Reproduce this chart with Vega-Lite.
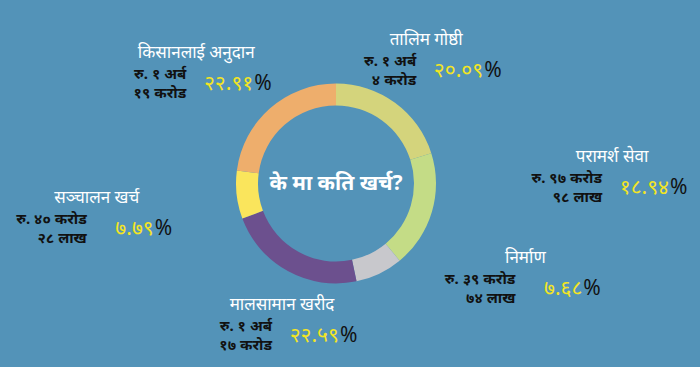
{
  "$schema": "https://vega.github.io/schema/vega-lite/v6.json",
  "width": 700,
  "height": 367,
  "autosize": {"type": "fit", "contains": "padding"},
  "padding": {"left": 0, "right": 26, "top": 0, "bottom": 0},
  "background": "#5393b8",
  "config": {"view": {"stroke": null}, "font": "Noto Sans"},
  "datasets": {
    "costs": [
      {"cat": "तालिम गोष्ठी", "ord": 1, "pct": 20.09, "pctText": "२०.०९", "amount": "रु. १ अर्ब\n४ करोड"},
      {"cat": "परामर्श सेवा", "ord": 2, "pct": 18.94, "pctText": "१८.९४", "amount": "रु. ९७ करोड\n९८ लाख"},
      {"cat": "निर्माण", "ord": 3, "pct": 7.68, "pctText": "७.६८", "amount": "रु. ३९ करोड\n७४ लाख"},
      {"cat": "मालसामान खरीद", "ord": 4, "pct": 22.59, "pctText": "२२.५९", "amount": "रु. १ अर्ब\n१७ करोड"},
      {"cat": "सञ्चालन खर्च", "ord": 5, "pct": 7.79, "pctText": "७.७९", "amount": "रु. ४० करोड\n२८ लाख"},
      {"cat": "किसानलाई अनुदान", "ord": 6, "pct": 22.91, "pctText": "२२.९१", "amount": "रु. १ अर्ब\n१९ करोड"}
    ],
    "heading": [{"title": "के मा कति खर्च?"}]
  },
  "data": {"name": "costs"},
  "encoding": {
    "theta": {"field": "pct", "type": "quantitative", "stack": true, "scale": {"domain": [0, 100]}},
    "order": {"field": "ord", "type": "quantitative"}
  },
  "layer": [
    {
      "mark": {"type": "arc", "outerRadius": 100, "innerRadius": 78},
      "encoding": {
        "color": {
          "field": "cat", "type": "nominal", "legend": null,
          "scale": {
            "domain": ["तालिम गोष्ठी", "परामर्श सेवा", "निर्माण", "मालसामान खरीद", "सञ्चालन खर्च", "किसानलाई अनुदान"],
            "range": ["#d4d47c", "#c4dc86", "#c8c8cc", "#6c508e", "#fae55c", "#eeae6c"]
          }
        }
      }
    },
    {
      "mark": {"type": "text", "radius": 134, "fontSize": 17, "color": "#ffffff", "align": "center", "baseline": "alphabetic",
               "dx": {"expr": "104*sin(PI*(datum.pct_start+datum.pct_end)/100) - 51.5*cos(PI*(datum.pct_start+datum.pct_end)/100) - 56*sin(PI*(datum.pct_start+datum.pct_end)/100)*cos(PI*(datum.pct_start+datum.pct_end)/100) + 18 + (sin(PI*(datum.pct_start+datum.pct_end)/100) < 0 ? -21 + 55*pow(cos(PI*(datum.pct_start+datum.pct_end)/100), 2) : 0)"},
               "dy": {"expr": "-28*sin(PI*(datum.pct_start+datum.pct_end)/100) + 30*sin(PI*(datum.pct_start+datum.pct_end)/100)*cos(PI*(datum.pct_start+datum.pct_end)/100) - 23 + 12*max(0, -cos(PI*(datum.pct_start+datum.pct_end)/100)) - 5"}},
      "encoding": {"text": {"field": "cat"}}
    },
    {
      "mark": {"type": "text", "radius": 134, "fontSize": 15, "fontWeight": "bold", "color": "#111111", "align": "right", "baseline": "top", "lineBreak": "\n", "lineHeight": 19,
               "dx": {"expr": "104*sin(PI*(datum.pct_start+datum.pct_end)/100) - 51.5*cos(PI*(datum.pct_start+datum.pct_end)/100) - 56*sin(PI*(datum.pct_start+datum.pct_end)/100)*cos(PI*(datum.pct_start+datum.pct_end)/100) + 18 + (sin(PI*(datum.pct_start+datum.pct_end)/100) < 0 ? -21 + 55*pow(cos(PI*(datum.pct_start+datum.pct_end)/100), 2) : 0) - 10"},
               "dy": {"expr": "-28*sin(PI*(datum.pct_start+datum.pct_end)/100) + 30*sin(PI*(datum.pct_start+datum.pct_end)/100)*cos(PI*(datum.pct_start+datum.pct_end)/100) - 23 + 12*max(0, -cos(PI*(datum.pct_start+datum.pct_end)/100)) + 4"}},
      "encoding": {"text": {"field": "amount"}}
    },
    {
      "mark": {"type": "text", "radius": 134, "fontSize": 21, "color": "#f3e524", "align": "right", "baseline": "middle",
               "dx": {"expr": "104*sin(PI*(datum.pct_start+datum.pct_end)/100) - 51.5*cos(PI*(datum.pct_start+datum.pct_end)/100) - 56*sin(PI*(datum.pct_start+datum.pct_end)/100)*cos(PI*(datum.pct_start+datum.pct_end)/100) + 18 + (sin(PI*(datum.pct_start+datum.pct_end)/100) < 0 ? -21 + 55*pow(cos(PI*(datum.pct_start+datum.pct_end)/100), 2) : 0) + 57"},
               "dy": {"expr": "-28*sin(PI*(datum.pct_start+datum.pct_end)/100) + 30*sin(PI*(datum.pct_start+datum.pct_end)/100)*cos(PI*(datum.pct_start+datum.pct_end)/100) - 23 + 12*max(0, -cos(PI*(datum.pct_start+datum.pct_end)/100)) + 21"}},
      "encoding": {"text": {"field": "pctText"}}
    },
    {
      "mark": {"type": "text", "radius": 134, "fontSize": 21, "color": "#111111", "align": "left", "baseline": "middle",
               "dx": {"expr": "104*sin(PI*(datum.pct_start+datum.pct_end)/100) - 51.5*cos(PI*(datum.pct_start+datum.pct_end)/100) - 56*sin(PI*(datum.pct_start+datum.pct_end)/100)*cos(PI*(datum.pct_start+datum.pct_end)/100) + 18 + (sin(PI*(datum.pct_start+datum.pct_end)/100) < 0 ? -21 + 55*pow(cos(PI*(datum.pct_start+datum.pct_end)/100), 2) : 0) + 58"},
               "dy": {"expr": "-28*sin(PI*(datum.pct_start+datum.pct_end)/100) + 30*sin(PI*(datum.pct_start+datum.pct_end)/100)*cos(PI*(datum.pct_start+datum.pct_end)/100) - 23 + 12*max(0, -cos(PI*(datum.pct_start+datum.pct_end)/100)) + 21"}},
      "encoding": {"text": {"value": "%"}}
    },
    {
      "data": {"name": "heading"},
      "mark": {"type": "text", "fontSize": 21, "fontWeight": "bold", "color": "#ffffff", "align": "center", "baseline": "middle"},
      "encoding": {"text": {"field": "title"}, "theta": null, "order": null}
    }
  ]
}
